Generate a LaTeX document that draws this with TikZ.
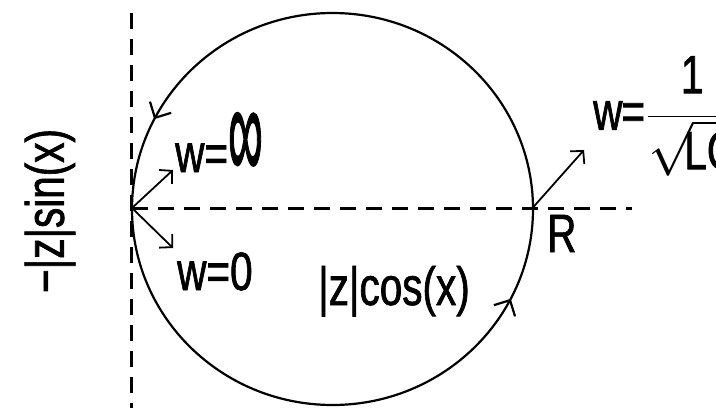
\RequirePackage{fix-cm}
\documentclass[tikz,border=0pt]{standalone}
\usepackage{fontspec}
\setmainfont{Liberation Sans}[FakeStretch=0.75, FakeBold=1.2]
\usepackage{amsmath}
\usepackage{graphicx}
\usetikzlibrary{positioning, arrows.meta, decorations.markings}

\begin{document}
\begin{tikzpicture}[
    x=1pt, y=1pt,
    every node/.style={font=\fontsize{54}{60}\selectfont, inner sep=0pt},
    curve/.style={line width=2.2pt},
    axis/.style={line width=3pt, dash pattern=on 16pt off 10pt},
    vec/.style={line width=1.8pt, -{Straight Barb[length=9pt, width=19pt]}},
    flow/.style={postaction={decorate}, decoration={markings,
        mark=at position 0.425 with {\arrow{Straight Barb[length=12pt, width=24pt]}},
        mark=at position 0.925 with {\arrow{Straight Barb[length=12pt, width=24pt]}}}},
  ]
  \useasboundingbox (0,0) rectangle (716,408);
  \clip (0,0) rectangle (716,408);

  % axes
  \coordinate (vtop) at (131,395);
  \coordinate (vbot) at (131,0);
  \coordinate (L) at (132,200);
  \coordinate (R) at (532.5,200);
  \coordinate (hend) at (632,200);
  \draw[axis] (vtop) -- (vbot);
  \draw[axis] (L) -- (hend);

  % locus
  \draw[curve, flow] (332.5,199) ellipse (200.5 and 196);

  % frequency directions
  \coordinate (up) at (173,238);
  \coordinate (down) at (173,160);
  \coordinate (res) at (584,258);
  \draw[vec] (L) -- (up);
  \draw[vec] (L) -- (down);
  \draw[vec] (R) -- (res);

  \node[rotate=90] (imag) at (50,197) {−|z|sin(x)};
  \node[anchor=base west] (winf) at (175,236)
    {w=\raisebox{-8pt}{\scalebox{1.2}[2.6]{∞}}};
  \node[anchor=base west] (wzero) at (177,118) {w=0};
  \node[anchor=base west] (real) at (318,103) {|z|cos(x)};
  \node[anchor=base west] (rlab) at (547,156) {R};
  \node[anchor=west] (wres) at (593,292)
    {w\kern-1pt=\kern2pt$\displaystyle\frac{\text{1}}{\sqrt{\mkern-3mu\text{LC}}}$};
\end{tikzpicture}
\end{document}
